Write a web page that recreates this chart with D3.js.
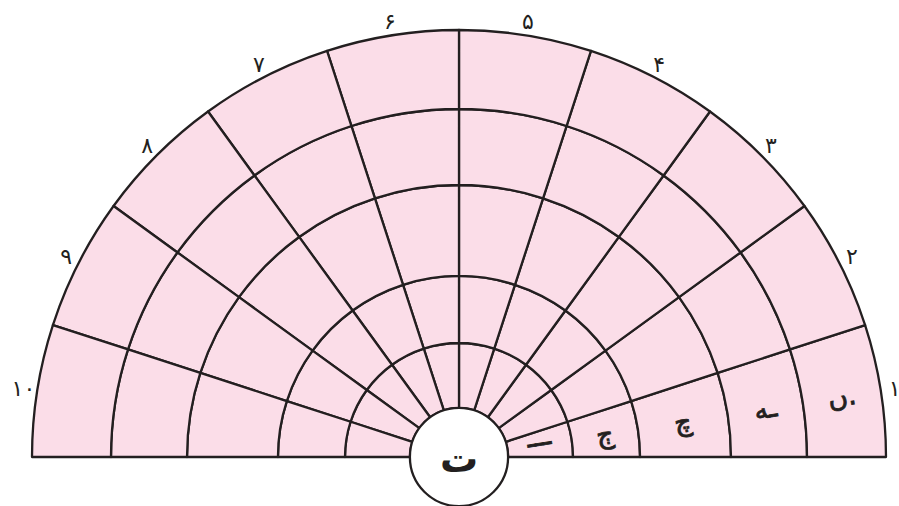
<!DOCTYPE html>
<html>
<head>
<meta charset="utf-8">
<script src="https://cdn.jsdelivr.net/npm/d3@7"></script>
<style>
  body { margin: 0; background: #fff; }
  text { font-family: "DejaVu Sans", sans-serif; fill: #231f20; }
</style>
</head>
<body>
<div class="plot"></div>
<script>
// Sector labels, right to left
var sectorLabels = ["۱", "۲", "۳", "۴", "۵", "۶", "۷", "۸", "۹", "۱۰"];
// Ring edges as a share of the outer radius (inner circle first)
var ringEdges = [0.115, 0.267, 0.424, 0.637, 0.815, 1.0];
// Letters written in the first sector, inner ring to outer ring
var firstSectorLetters = ["ـــ", "ڄ", "چ", "ـه", "ں."];
var centerLetter = "ت";

var width = 899, height = 506,
    cx = 459, cy = 457,
    outerR = 427,
    ink = "#231f20",
    pink = "#fbdde8";

var svg = d3.select(".plot")
    .append("svg")
    .attr("width", width)
    .attr("height", height);

svg.append("rect")
    .attr("width", "100%")
    .attr("height", "100%")
    .attr("fill", "white");

var canvas = svg.append("g")
    .attr("transform", "translate(" + cx + "," + cy + ")");

var rScale = d3.scaleLinear().domain([0, 1]).range([0, outerR]);
// d3 angles: 0 at top, clockwise; sector 0 starts at the right side
var aScale = d3.scaleLinear().domain([0, sectorLabels.length]).range([Math.PI / 2, -Math.PI / 2]);

// Build the cells (sector x ring)
var cells = [];
sectorLabels.forEach(function (lab, s) {
    for (var i = 0; i < ringEdges.length - 1; i++) {
        cells.push({s: s, ring: i, inner: ringEdges[i], outer: ringEdges[i + 1]});
    }
});

var arc = d3.arc()
    .innerRadius(d => rScale(d.inner))
    .outerRadius(d => rScale(d.outer))
    .startAngle(d => aScale(d.s))
    .endAngle(d => aScale(d.s + 1));

canvas.selectAll(".cell")
    .data(cells)
    .enter().append("path")
    .attr("class", "cell")
    .attr("d", arc)
    .attr("fill", pink)
    .attr("stroke", ink)
    .attr("stroke-width", 2.3)
    .attr("stroke-linejoin", "round");

// Letters inside the first sector
canvas.selectAll(".letter")
    .data(cells.filter(d => d.s === 0))
    .enter().append("text")
    .attr("class", "letter")
    .attr("transform", function (d, i) {
        var c = arc.centroid(d);
        var deg = 90 - (aScale(d.s + 0.5) * 180 / Math.PI);
        return "translate(" + c[0] + "," + c[1] + ") rotate(" + (-deg) + ")";
    })
    .attr("text-anchor", "middle")
    .attr("dominant-baseline", "central")
    .attr("dy", (d, i) => i === 0 ? "-0.3em" : 0)
    .style("font-size", "27px")
    .style("stroke", ink)
    .style("stroke-width", 0.8)
    .text((d, i) => firstSectorLetters[i]);

// Sector numbers outside the arc
canvas.selectAll(".num")
    .data(sectorLabels)
    .enter().append("text")
    .attr("class", "num")
    .attr("x", (d, i) => (outerR + 14) * Math.sin(aScale(i + 0.5)))
    .attr("y", (d, i) => -(outerR + 14) * Math.cos(aScale(i + 0.5)))
    .attr("text-anchor", "middle")
    .attr("dominant-baseline", "central")
    .style("font-size", "22px")
    .text(d => d);

// Center circle
canvas.append("circle")
    .attr("r", rScale(ringEdges[0]))
    .attr("fill", "white")
    .attr("stroke", ink)
    .attr("stroke-width", 2.3);

canvas.append("text")
    .attr("y", 2)
    .attr("text-anchor", "middle")
    .attr("dominant-baseline", "central")
    .style("font-size", "38px")
    .style("font-weight", "bold")
    .text(centerLetter);
</script>
</body>
</html>
